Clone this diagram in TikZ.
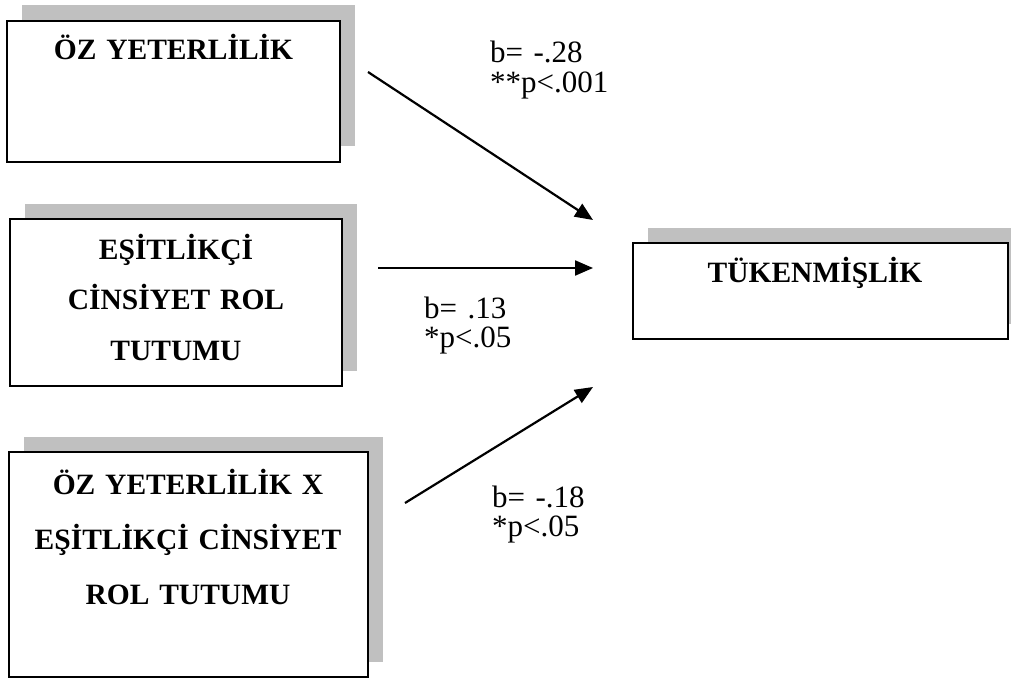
\documentclass[tikz,border=0pt]{standalone}
\usepackage{fontspec}
\setmainfont{Liberation Serif}
\usetikzlibrary{arrows.meta,shadows}
\definecolor{shadowgray}{HTML}{C0C0C0}
\begin{document}
\begin{tikzpicture}[x=1pt,y=-1pt,
  box/.style={draw=black, line width=1.8pt, fill=white, inner sep=0pt,
    copy shadow={shadow xshift=15pt, shadow yshift=15.5pt, fill=shadowgray, draw=none}},
  boxtext/.style={font=\bfseries\fontsize{29.5}{50.5}\selectfont, text width=360pt,
    align=center, inner sep=0pt, anchor=base},
  lbl/.style={font=\fontsize{31}{29.5}\selectfont, text width=150pt, align=left,
    inner sep=0pt, anchor=base west},
  conn/.style={line width=2.2pt, -{Triangle[length=18pt,width=15pt]}}]
\useasboundingbox (0,0) rectangle (1011,679);
% boxes
\node[box, minimum width=333pt, minimum height=141pt] (b1) at (173.5,91.5) {};
\node[box, minimum width=332pt, minimum height=167pt] (b2) at (176,302.5) {};
\node[box, minimum width=359pt, minimum height=225pt] (b3) at (188.5,564.5) {};
\node[box, minimum width=375pt, minimum height=96pt] (b4) at (820.5,291) {};
% box texts
\node[boxtext] (t1) at (173.5,60) {ÖZ YETERLİLİK};
\node[boxtext] (t2) at (176,259) {EŞİTLİKÇİ\\CİNSİYET ROL\\TUTUMU};
\node[boxtext, font=\bfseries\fontsize{29.5}{55}\selectfont] (t3) at (188,494) {ÖZ YETERLİLİK X\\EŞİTLİKÇİ CİNSİYET\\ROL TUTUMU};
\node[boxtext] (t4) at (815,282) {TÜKENMİŞLİK};
% connectors
\coordinate (s1) at (368,72);
\coordinate (e1) at (593,220);
\coordinate (s2) at (378,268);
\coordinate (e2) at (593,268);
\coordinate (s3) at (405,503);
\coordinate (e3) at (593,387);
\draw[conn] (s1) -- (e1);
\draw[conn] (s2) -- (e2);
\draw[conn] (s3) -- (e3);
% labels
\node[lbl] (l1) at (490,63) {b= -.28\\{}**p<.001};
\node[lbl] (l2) at (424,318) {b= .13\\{}*p<.05};
\node[lbl] (l3) at (492,507) {b= -.18\\{}*p<.05};
\end{tikzpicture}
\end{document}
